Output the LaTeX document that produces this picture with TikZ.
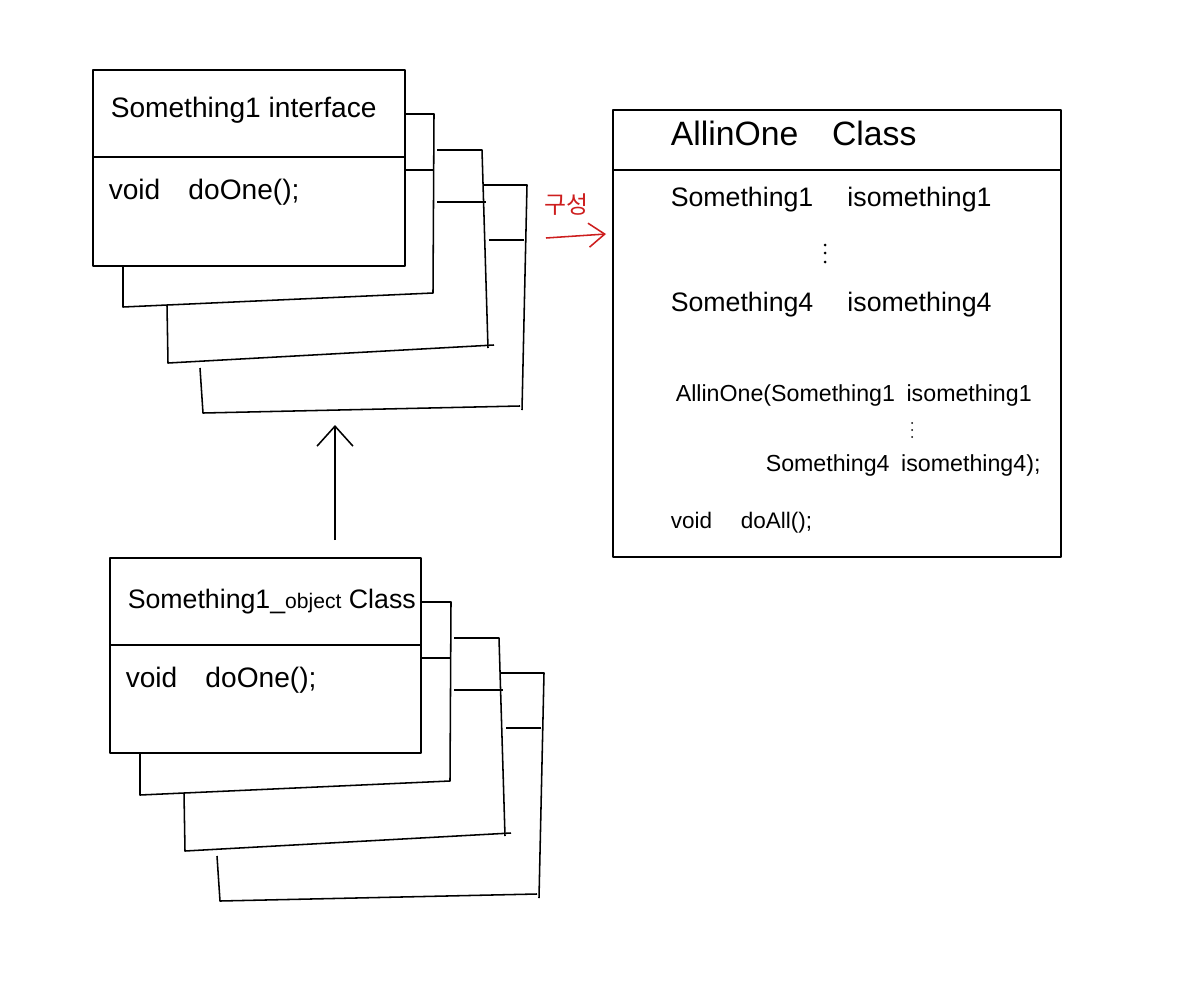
\documentclass[tikz,border=0pt]{standalone}
\usepackage{fontspec}
\setmainfont{Liberation Sans}
\newfontfamily\kofont{Noto Sans CJK KR}
\usetikzlibrary{arrows.meta}
\definecolor{penred}{RGB}{205,30,30}
\begin{document}
\begin{tikzpicture}[x=0.025cm,y=-0.025cm,line width=1.1pt,line join=round,
  classbox/.style={draw, inner sep=0pt},
  title/.style={anchor=west, inner sep=0pt, font=\fontsize{20}{24}\selectfont},
  code/.style={anchor=west, inner sep=0pt, font=\fontsize{19}{22}\selectfont}]
  \useasboundingbox (0,0) rectangle (1184,1000);
  % sheets behind both front boxes
  \foreach \dx/\dy in {0/0, 17/488} {
    \begin{scope}[shift={(\dx,\dy)}]
      \draw (405,114) -- (434,114) -- (433,293) -- (123,307) -- (123,266);
      \draw (405,170) -- (434,170);
      \draw (437,150) -- (482,150) -- (488,348);
      \draw (494,345) -- (168,363) -- (167,305);
      \draw (437,202) -- (486,202);
      \draw (483,185) -- (527,185) -- (522,410);
      \draw (520,406) -- (203,413) -- (200,368);
      \draw (489,240) -- (524,240);
    \end{scope}
  }
  % interface
  \node[classbox, minimum width=7.8cm, minimum height=4.9cm] (iface) at (249,168) {};
  \draw (93,157) -- (405,157);
  \node[title] (ifaceT) at (110,110) {Something1 interface};
  \node[code, font=\fontsize{20}{24}\selectfont] (ifaceM) at (108,192) {void\quad doOne();};
  % object class
  \node[classbox, minimum width=7.775cm, minimum height=4.875cm] (obj) at (265.5,655.5) {};
  \draw (110,645) -- (421,645);
  \node[title, font=\fontsize{19}{22}\selectfont] (objT) at (127,602) {Something1\_{\fontsize{15}{18}\selectfont object} Class};
  \node[code, font=\fontsize{20}{24}\selectfont] (objM) at (125,680) {void\quad doOne();};
  % all in one
  \node[classbox, minimum width=11.2cm, minimum height=11.175cm] (all) at (837,333.5) {};
  \draw (613,170) -- (1061,170);
  \node[title, font=\fontsize{24}{28}\selectfont] (allT) at (670,133) {AllinOne\quad Class};
  \node[code] (allA) at (670,200) {Something1\quad\ isomething1};
  \foreach \y in {245,253,262} \fill (825,\y) circle (1.5);
  \node[code] (allB) at (670,305) {Something4\quad\ isomething4};
  \node[code, font=\fontsize{16.5}{20}\selectfont] (allC) at (675,395) {AllinOne(Something1\enspace isomething1};
  \foreach \y in {423,430,437} \fill (912,\y) circle (1);
  \node[code, font=\fontsize{16.5}{20}\selectfont] (allD) at (765,465) {Something4\enspace isomething4);};
  \node[code, font=\fontsize{16}{19}\selectfont] (allE) at (670,523) {void\quad\ doAll();};
  % connectors
  \coordinate (implS) at (335,540);
  \coordinate (implE) at (335,425);
  \draw[-{Straight Barb[length=5mm,width=9mm]}] (implS) -- (implE);
  \coordinate (compS) at (546,238);
  \coordinate (compE) at (606,234);
  \draw[penred, -{Straight Barb[length=4mm,width=6mm]}] (compS) -- (compE);
  \node[penred, font=\kofont\fontsize{17}{20}\selectfont] (compL) at (566,205) {구성};
\end{tikzpicture}
\end{document}
